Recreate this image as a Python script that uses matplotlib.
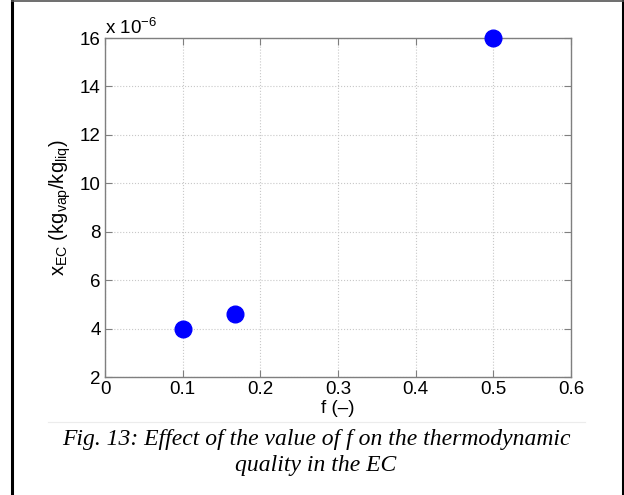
import matplotlib
matplotlib.use("Agg")
import matplotlib.pyplot as plt
from matplotlib.lines import Line2D

# data (y in units of 1e-6 kg_vap/kg_liq)
f_values = [0.1, 0.168, 0.5]
x_ec = [4.0, 4.6, 16.0]
x_ticks = [0, 0.1, 0.2, 0.3, 0.4, 0.5, 0.6]
y_ticks = [2, 4, 6, 8, 10, 12, 14, 16]

plt.rcParams['font.family'] = ['Liberation Sans', 'DejaVu Sans']
plt.rcParams['mathtext.fontset'] = 'custom'
plt.rcParams['mathtext.rm'] = 'Liberation Sans'
plt.rcParams['mathtext.it'] = 'Liberation Sans'

W, H = 624, 495
fig = plt.figure(figsize=(W / 100, H / 100), dpi=100)
ax = fig.add_axes([105 / W, 1 - 377 / H, 466 / W, 339 / H])

ax.plot(f_values, x_ec, 'o', color='#0000ff', markersize=12,
        clip_on=False, zorder=5)

ax.set_xlim(0, 0.6)
ax.set_ylim(2, 16)
ax.set_xticks(x_ticks)
ax.set_yticks(y_ticks)
ax.set_xticklabels(['0', '0.1', '0.2', '0.3', '0.4', '0.5', '0.6'])
ax.grid(True, linestyle=':', color='#c8c8c8', linewidth=0.8)
ax.set_axisbelow(True)
for s in ax.spines.values():
    s.set_color('#7f7f7f')
    s.set_linewidth(1.0)
ax.tick_params(direction='in', length=5, width=0.8, color='#7f7f7f',
               top=True, right=True, labelsize=13.5, pad=3)

ax.set_xlabel('f (–)', fontsize=13.5, labelpad=1)
ax.set_ylabel(r'x$_{\rm EC}$ (kg$_{\rm vap}$/kg$_{\rm liq}$)', fontsize=14.5,
              labelpad=5)
ax.text(0.0, 1.0, r'x 10$^{-6}$', transform=ax.transAxes, fontsize=13.5,
        ha='left', va='bottom')

# caption and frame
fig.add_artist(Line2D([48 / W, 585 / W], [1 - 422 / H] * 2, color='#ececec',
                      linewidth=0.8))
fig.text(316 / W, 1 - 439 / H,
         'Fig. 13: Effect of the value of f on the thermodynamic',
         family='Liberation Serif', style='italic', fontsize=17,
         ha='center', va='center')
fig.text(316 / W, 1 - 466 / H, 'quality in the EC',
         family='Liberation Serif', style='italic', fontsize=17,
         ha='center', va='center')

fig.add_artist(Line2D([12 / W, 12 / W], [0, 1], color='black', linewidth=2.2))
fig.add_artist(Line2D([622.5 / W, 622.5 / W], [0, 1], color='black',
                      linewidth=2.2))
fig.add_artist(Line2D([12 / W, 623 / W], [1 - 1 / H] * 2, color='#555555',
                      linewidth=1.2))

fig.savefig('out.png', dpi=100)
